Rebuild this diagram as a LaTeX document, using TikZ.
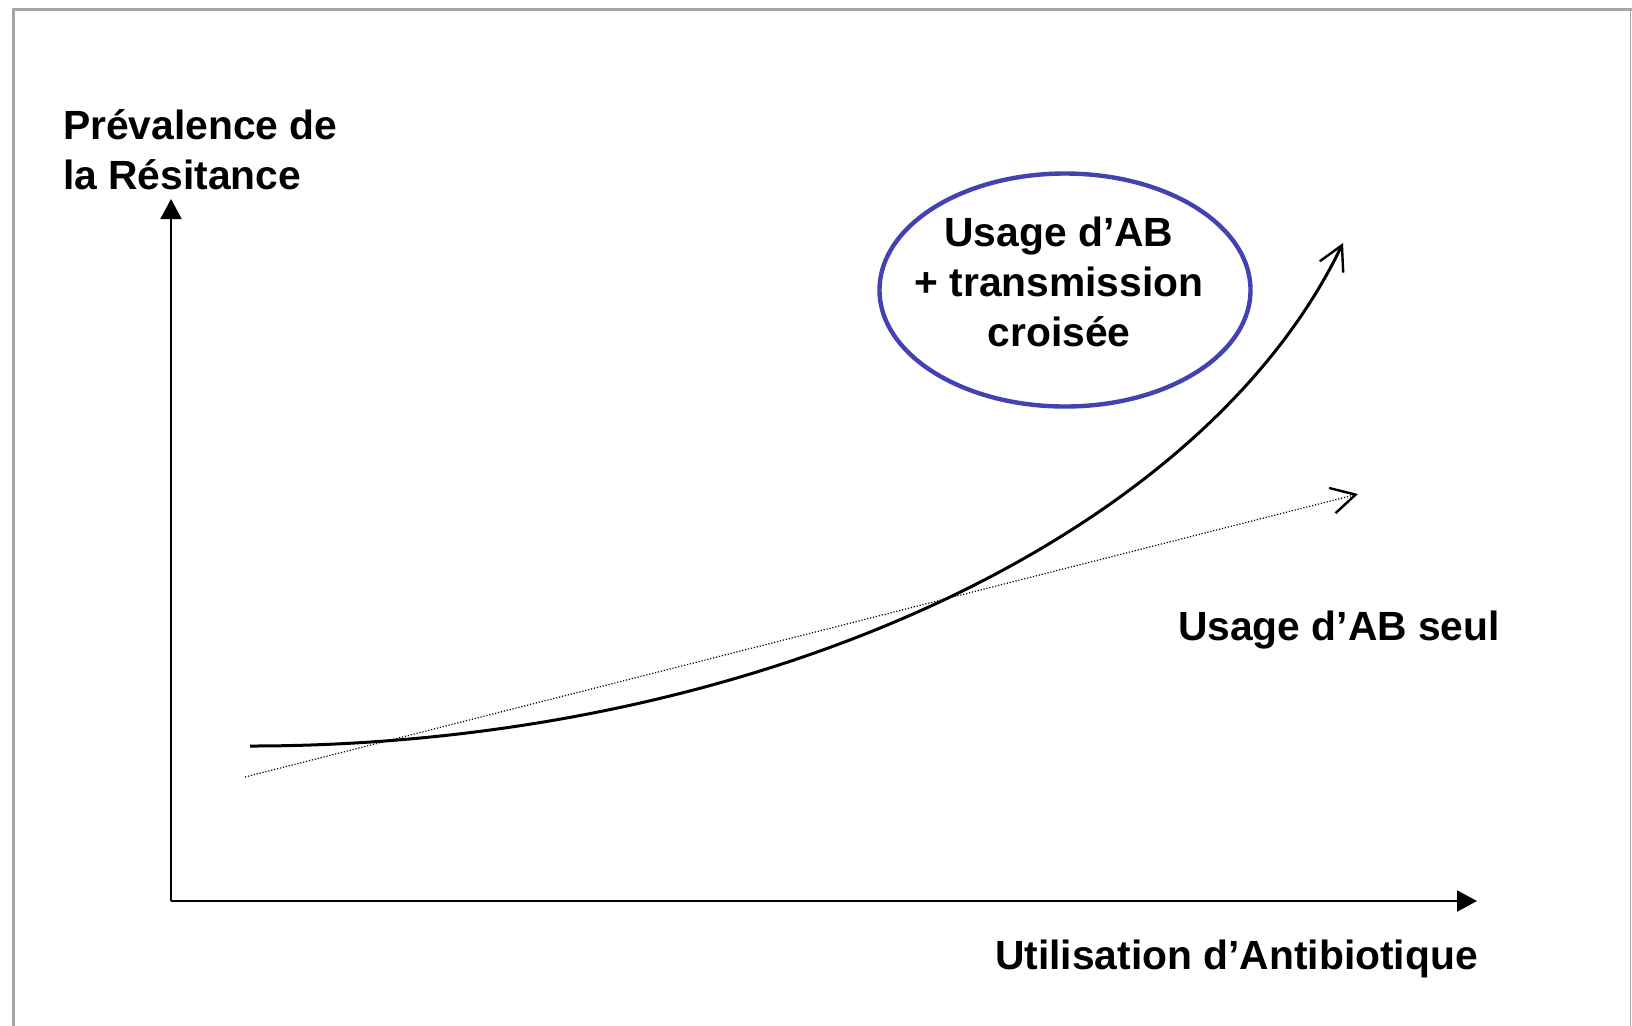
\documentclass[tikz,border=0pt]{standalone}
\usepackage{fontspec}
\setmainfont{Liberation Sans}
\usetikzlibrary{arrows.meta,shapes.geometric}
\definecolor{frame}{RGB}{166,166,166}
\definecolor{ellblue}{RGB}{66,66,178}
\tikzset{
  lbl/.style={font=\fontsize{20.4pt}{25pt}\selectfont\bfseries, inner sep=0pt, outer sep=0pt},
  axis/.style={line width=1pt, -{Triangle[length=10pt,width=10.5pt]}},
  barb/.style={-{Straight Barb[length=12pt,width=13pt,line width=1.2pt]}},
}
\begin{document}
\begin{tikzpicture}[x=0.5pt,y=-0.5pt]
\useasboundingbox (0,0) rectangle (1632,1025);
% frame
\draw[frame, line width=1.5pt] (13.5,1030) -- (13.5,9.5) -- (1632,9.5);
\draw[frame, line width=0.6pt] (1630.8,9.5) -- (1630.8,1030);
% axes
\coordinate (O) at (171,901);
\coordinate (Ytip) at (171,199);
\coordinate (Xtip) at (1477,901);
\draw[axis] (O) -- (Ytip);
\draw[axis] (O) -- (Xtip);
% labels
\node[lbl, anchor=base west, align=left] (ylab) at (63,189) {Prévalence de\\la Résitance};
\node[lbl, anchor=base west] (xlab) at (995,969) {Utilisation d’Antibiotique};
\node[lbl, anchor=base west] (seul) at (1178,640) {Usage d’AB seul};
% ellipse
\node[ellipse, draw=ellblue, line width=2.2pt, minimum width=185.5pt, minimum height=116.5pt, inner sep=0pt] (ell) at (1065,290) {};
\node[lbl, align=center] (elltext) at (1059,282) {Usage d’AB\\+ transmission\\croisée};
% dotted line
\coordinate (d0) at (245,777);
\coordinate (d1) at (1358,494);
\draw[barb, line width=0.6pt, dash pattern=on 0.6pt off 0.9pt] (d0) -- (d1);
% curve
\coordinate (c0) at (250,746);
\coordinate (c3) at (1343,243);
\draw[barb, line width=1.5pt] (c0) .. controls (750,746) and (1200,540) .. (c3);
\end{tikzpicture}
\end{document}
